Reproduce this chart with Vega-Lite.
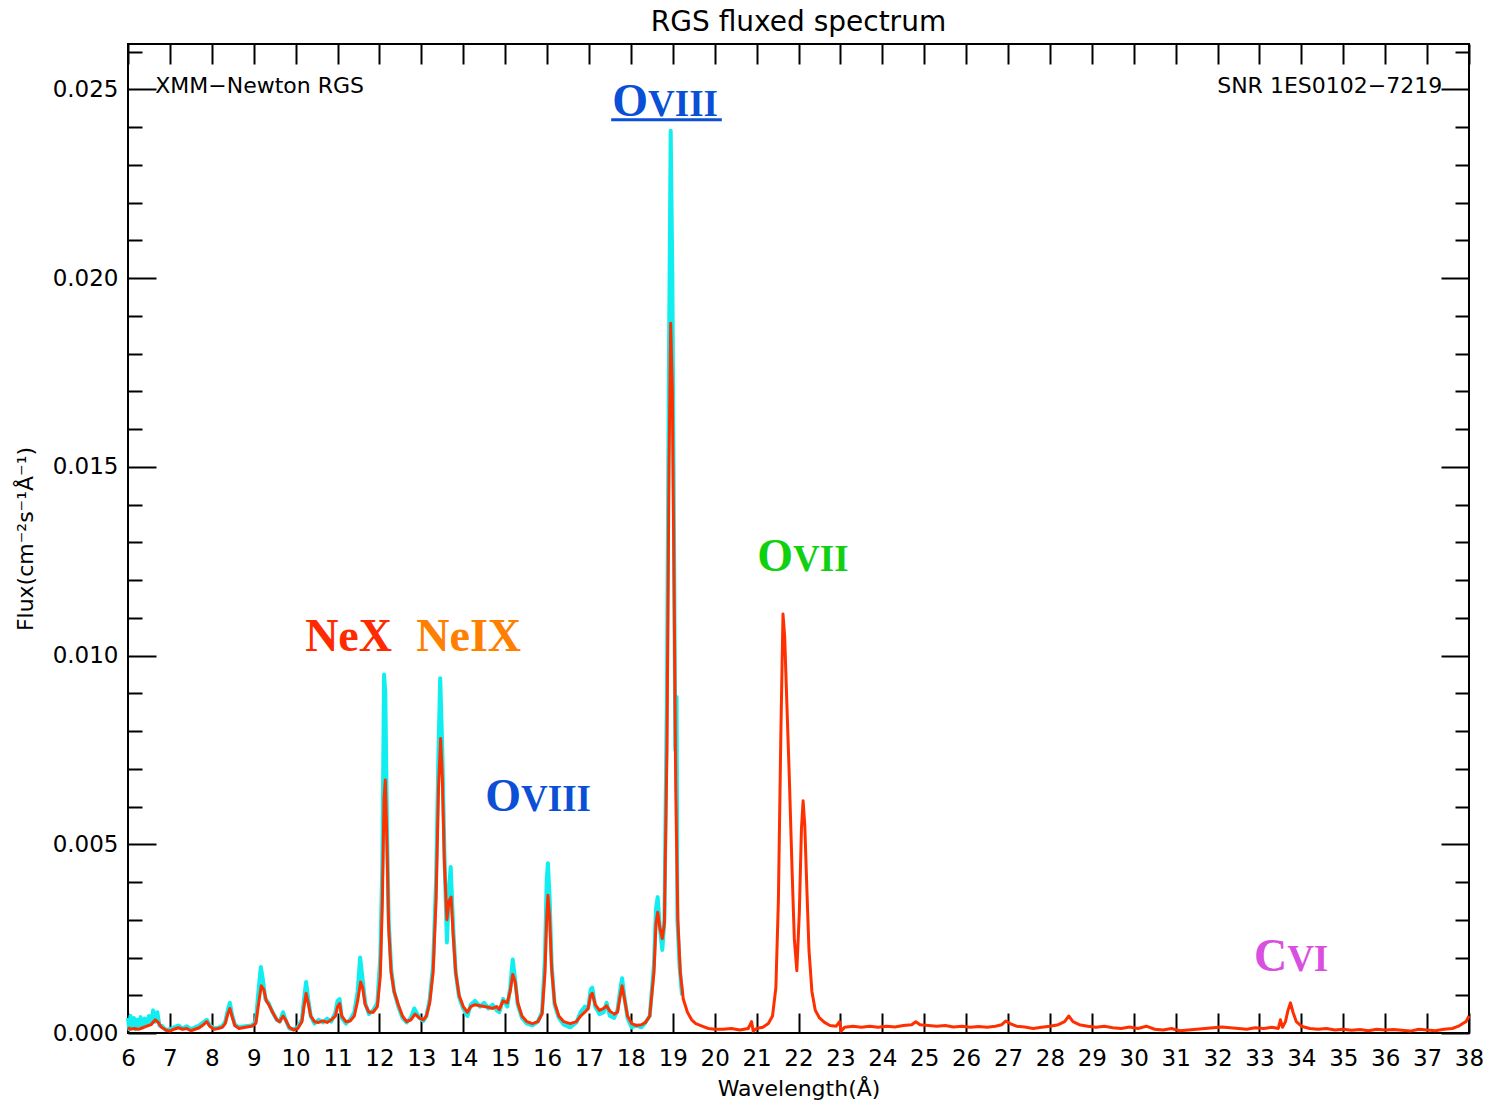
{
  "$schema": "https://vega.github.io/schema/vega-lite/v6.json",
  "width": 1341,
  "height": 989,
  "autosize": "none",
  "padding": {"left": 128, "top": 44, "right": 17, "bottom": 70},
  "background": "white",
  "title": {"text": "RGS fluxed spectrum", "fontSize": 28, "font": "DejaVu Sans", "fontWeight": "normal", "color": "black", "anchor": "middle", "offset": 4},
  "config": {
    "view": {"stroke": "black", "strokeWidth": 2},
    "axis": {"domain": false, "grid": false, "labelFont": "DejaVu Sans", "labelFontSize": 23, "labelColor": "black", "titleFont": "DejaVu Sans", "titleFontSize": 22, "titleFontWeight": "normal", "titleColor": "black", "tickColor": "black", "tickWidth": 2}
  },
  "datasets": {
    "red": [
      {"w":6.00,"f":0.00015},{"w":6.05,"f":0.00010},{"w":6.15,"f":0.00012},{"w":6.25,"f":0.00010},{"w":6.35,"f":0.00014},{"w":6.45,"f":0.00018},{"w":6.55,"f":0.00022},{"w":6.65,"f":0.00035},{"w":6.72,"f":0.00028},{"w":6.80,"f":0.00015},{"w":6.90,"f":0.00008},{"w":7.00,"f":0.00005},{"w":7.10,"f":0.00010},{"w":7.20,"f":0.00014},{"w":7.30,"f":0.00010},{"w":7.40,"f":0.00012},{"w":7.50,"f":0.00006},{"w":7.60,"f":0.00010},{"w":7.70,"f":0.00014},{"w":7.80,"f":0.00022},{"w":7.88,"f":0.00030},{"w":7.95,"f":0.00018},{"w":8.05,"f":0.00010},{"w":8.15,"f":0.00012},{"w":8.25,"f":0.00015},{"w":8.32,"f":0.00025},{"w":8.38,"f":0.00050},{"w":8.43,"f":0.00065},{"w":8.48,"f":0.00045},{"w":8.55,"f":0.00020},{"w":8.65,"f":0.00012},{"w":8.80,"f":0.00015},{"w":8.95,"f":0.00018},{"w":9.05,"f":0.00025},{"w":9.12,"f":0.00080},{"w":9.18,"f":0.00125},{"w":9.24,"f":0.00115},{"w":9.30,"f":0.00085},{"w":9.36,"f":0.00075},{"w":9.45,"f":0.00055},{"w":9.55,"f":0.00035},{"w":9.62,"f":0.00030},{"w":9.70,"f":0.00045},{"w":9.76,"f":0.00035},{"w":9.85,"f":0.00015},{"w":9.95,"f":0.00008},{"w":10.05,"f":0.00012},{"w":10.15,"f":0.00030},{"w":10.20,"f":0.00070},{"w":10.25,"f":0.00105},{"w":10.30,"f":0.00080},{"w":10.36,"f":0.00045},{"w":10.45,"f":0.00030},{"w":10.55,"f":0.00028},{"w":10.65,"f":0.00032},{"w":10.75,"f":0.00028},{"w":10.85,"f":0.00035},{"w":10.95,"f":0.00045},{"w":11.00,"f":0.00070},{"w":11.05,"f":0.00078},{"w":11.10,"f":0.00045},{"w":11.20,"f":0.00030},{"w":11.30,"f":0.00032},{"w":11.40,"f":0.00045},{"w":11.48,"f":0.00085},{"w":11.55,"f":0.00135},{"w":11.60,"f":0.00120},{"w":11.66,"f":0.00075},{"w":11.75,"f":0.00055},{"w":11.85,"f":0.00055},{"w":11.95,"f":0.00070},{"w":12.02,"f":0.00150},{"w":12.07,"f":0.00350},{"w":12.11,"f":0.00620},{"w":12.14,"f":0.00670},{"w":12.18,"f":0.00500},{"w":12.22,"f":0.00280},{"w":12.28,"f":0.00160},{"w":12.35,"f":0.00110},{"w":12.45,"f":0.00075},{"w":12.55,"f":0.00045},{"w":12.65,"f":0.00030},{"w":12.75,"f":0.00035},{"w":12.85,"f":0.00050},{"w":12.95,"f":0.00040},{"w":13.05,"f":0.00035},{"w":13.12,"f":0.00045},{"w":13.20,"f":0.00080},{"w":13.28,"f":0.00160},{"w":13.35,"f":0.00350},{"w":13.41,"f":0.00650},{"w":13.46,"f":0.00780},{"w":13.50,"f":0.00680},{"w":13.55,"f":0.00450},{"w":13.61,"f":0.00300},{"w":13.66,"f":0.00350},{"w":13.71,"f":0.00360},{"w":13.76,"f":0.00260},{"w":13.82,"f":0.00160},{"w":13.90,"f":0.00100},{"w":14.00,"f":0.00070},{"w":14.10,"f":0.00055},{"w":14.18,"f":0.00070},{"w":14.28,"f":0.00075},{"w":14.40,"f":0.00072},{"w":14.50,"f":0.00070},{"w":14.60,"f":0.00068},{"w":14.70,"f":0.00065},{"w":14.80,"f":0.00070},{"w":14.86,"f":0.00062},{"w":14.95,"f":0.00085},{"w":15.05,"f":0.00080},{"w":15.12,"f":0.00110},{"w":15.18,"f":0.00155},{"w":15.24,"f":0.00135},{"w":15.30,"f":0.00080},{"w":15.40,"f":0.00045},{"w":15.52,"f":0.00030},{"w":15.65,"f":0.00025},{"w":15.78,"f":0.00030},{"w":15.88,"f":0.00050},{"w":15.95,"f":0.00160},{"w":15.99,"f":0.00300},{"w":16.02,"f":0.00365},{"w":16.06,"f":0.00310},{"w":16.11,"f":0.00170},{"w":16.18,"f":0.00080},{"w":16.28,"f":0.00045},{"w":16.40,"f":0.00030},{"w":16.55,"f":0.00025},{"w":16.70,"f":0.00030},{"w":16.80,"f":0.00045},{"w":16.90,"f":0.00055},{"w":16.98,"f":0.00065},{"w":17.04,"f":0.00100},{"w":17.08,"f":0.00105},{"w":17.15,"f":0.00075},{"w":17.25,"f":0.00060},{"w":17.35,"f":0.00065},{"w":17.42,"f":0.00072},{"w":17.50,"f":0.00058},{"w":17.60,"f":0.00050},{"w":17.68,"f":0.00055},{"w":17.74,"f":0.00095},{"w":17.79,"f":0.00125},{"w":17.84,"f":0.00095},{"w":17.92,"f":0.00045},{"w":18.02,"f":0.00025},{"w":18.12,"f":0.00020},{"w":18.25,"f":0.00022},{"w":18.35,"f":0.00028},{"w":18.45,"f":0.00045},{"w":18.55,"f":0.00160},{"w":18.60,"f":0.00290},{"w":18.64,"f":0.00320},{"w":18.69,"f":0.00280},{"w":18.75,"f":0.00250},{"w":18.80,"f":0.00290},{"w":18.86,"f":0.00750},{"w":18.91,"f":0.01500},{"w":18.95,"f":0.01880},{"w":18.99,"f":0.01700},{"w":19.03,"f":0.01200},{"w":19.07,"f":0.00650},{"w":19.12,"f":0.00300},{"w":19.18,"f":0.00160},{"w":19.25,"f":0.00090},{"w":19.35,"f":0.00055},{"w":19.45,"f":0.00035},{"w":19.55,"f":0.00025},{"w":19.70,"f":0.00018},{"w":19.85,"f":0.00012},{"w":20.00,"f":0.00010},{"w":20.20,"f":0.00010},{"w":20.40,"f":0.00012},{"w":20.60,"f":0.00008},{"w":20.80,"f":0.00012},{"w":20.88,"f":0.00030},{"w":20.92,"f":0.00005},{"w":21.00,"f":0.00012},{"w":21.15,"f":0.00015},{"w":21.28,"f":0.00025},{"w":21.38,"f":0.00045},{"w":21.46,"f":0.00120},{"w":21.52,"f":0.00350},{"w":21.58,"f":0.00800},{"w":21.63,"f":0.01110},{"w":21.67,"f":0.01050},{"w":21.72,"f":0.00880},{"w":21.78,"f":0.00680},{"w":21.85,"f":0.00420},{"w":21.90,"f":0.00250},{"w":21.96,"f":0.00165},{"w":22.02,"f":0.00320},{"w":22.07,"f":0.00540},{"w":22.11,"f":0.00615},{"w":22.15,"f":0.00550},{"w":22.20,"f":0.00380},{"w":22.25,"f":0.00220},{"w":22.32,"f":0.00110},{"w":22.40,"f":0.00060},{"w":22.50,"f":0.00040},{"w":22.62,"f":0.00028},{"w":22.75,"f":0.00020},{"w":22.90,"f":0.00018},{"w":22.98,"f":0.00030},{"w":23.02,"f":0.00005},{"w":23.10,"f":0.00015},{"w":23.30,"f":0.00018},{"w":23.50,"f":0.00015},{"w":23.70,"f":0.00018},{"w":23.90,"f":0.00015},{"w":24.10,"f":0.00018},{"w":24.30,"f":0.00016},{"w":24.50,"f":0.00020},{"w":24.70,"f":0.00022},{"w":24.80,"f":0.00030},{"w":24.90,"f":0.00022},{"w":25.10,"f":0.00020},{"w":25.30,"f":0.00018},{"w":25.50,"f":0.00020},{"w":25.70,"f":0.00016},{"w":25.90,"f":0.00018},{"w":26.10,"f":0.00015},{"w":26.30,"f":0.00017},{"w":26.50,"f":0.00015},{"w":26.70,"f":0.00018},{"w":26.85,"f":0.00022},{"w":26.95,"f":0.00032},{"w":27.05,"f":0.00025},{"w":27.20,"f":0.00018},{"w":27.40,"f":0.00016},{"w":27.60,"f":0.00012},{"w":27.80,"f":0.00015},{"w":28.00,"f":0.00018},{"w":28.20,"f":0.00022},{"w":28.35,"f":0.00030},{"w":28.45,"f":0.00045},{"w":28.55,"f":0.00030},{"w":28.70,"f":0.00022},{"w":28.90,"f":0.00018},{"w":29.10,"f":0.00015},{"w":29.30,"f":0.00018},{"w":29.50,"f":0.00014},{"w":29.70,"f":0.00012},{"w":29.90,"f":0.00016},{"w":30.10,"f":0.00012},{"w":30.30,"f":0.00018},{"w":30.50,"f":0.00010},{"w":30.70,"f":0.00008},{"w":30.90,"f":0.00012},{"w":31.10,"f":0.00006},{"w":31.30,"f":0.00008},{"w":31.50,"f":0.00010},{"w":31.70,"f":0.00012},{"w":31.90,"f":0.00014},{"w":32.10,"f":0.00016},{"w":32.30,"f":0.00014},{"w":32.50,"f":0.00012},{"w":32.70,"f":0.00010},{"w":32.90,"f":0.00014},{"w":33.10,"f":0.00012},{"w":33.30,"f":0.00015},{"w":33.45,"f":0.00012},{"w":33.50,"f":0.00035},{"w":33.55,"f":0.00015},{"w":33.62,"f":0.00030},{"w":33.68,"f":0.00060},{"w":33.74,"f":0.00080},{"w":33.80,"f":0.00055},{"w":33.88,"f":0.00030},{"w":34.00,"f":0.00018},{"w":34.20,"f":0.00012},{"w":34.40,"f":0.00010},{"w":34.60,"f":0.00012},{"w":34.80,"f":0.00008},{"w":35.00,"f":0.00010},{"w":35.20,"f":0.00007},{"w":35.40,"f":0.00009},{"w":35.60,"f":0.00006},{"w":35.80,"f":0.00010},{"w":36.00,"f":0.00008},{"w":36.20,"f":0.00009},{"w":36.40,"f":0.00007},{"w":36.60,"f":0.00005},{"w":36.80,"f":0.00010},{"w":37.00,"f":0.00008},{"w":37.20,"f":0.00006},{"w":37.40,"f":0.00010},{"w":37.60,"f":0.00012},{"w":37.75,"f":0.00018},{"w":37.85,"f":0.00025},{"w":37.93,"f":0.00030},{"w":38.00,"f":0.00045}
    ],
    "cyan": [
      {"w":6.00,"f":0.00040},{"w":6.03,"f":0.00010},{"w":6.06,"f":0.00045},{"w":6.10,"f":0.00015},{"w":6.14,"f":0.00040},{"w":6.18,"f":0.00010},{"w":6.22,"f":0.00035},{"w":6.26,"f":0.00020},{"w":6.30,"f":0.00042},{"w":6.34,"f":0.00015},{"w":6.40,"f":0.00038},{"w":6.45,"f":0.00020},{"w":6.50,"f":0.00045},{"w":6.55,"f":0.00025},{"w":6.60,"f":0.00060},{"w":6.65,"f":0.00030},{"w":6.70,"f":0.00055},{"w":6.75,"f":0.00020},{"w":6.82,"f":0.00018},{"w":6.90,"f":0.00008},{"w":7.00,"f":0.00010},{"w":7.10,"f":0.00015},{"w":7.20,"f":0.00020},{"w":7.30,"f":0.00012},{"w":7.40,"f":0.00018},{"w":7.50,"f":0.00010},{"w":7.60,"f":0.00015},{"w":7.70,"f":0.00020},{"w":7.80,"f":0.00028},{"w":7.88,"f":0.00035},{"w":7.95,"f":0.00020},{"w":8.05,"f":0.00012},{"w":8.15,"f":0.00014},{"w":8.25,"f":0.00018},{"w":8.32,"f":0.00030},{"w":8.38,"f":0.00060},{"w":8.43,"f":0.00080},{"w":8.48,"f":0.00050},{"w":8.55,"f":0.00022},{"w":8.65,"f":0.00015},{"w":8.80,"f":0.00018},{"w":8.95,"f":0.00020},{"w":9.05,"f":0.00030},{"w":9.12,"f":0.00120},{"w":9.17,"f":0.00175},{"w":9.22,"f":0.00140},{"w":9.28,"f":0.00090},{"w":9.35,"f":0.00080},{"w":9.45,"f":0.00055},{"w":9.55,"f":0.00035},{"w":9.62,"f":0.00030},{"w":9.70,"f":0.00055},{"w":9.76,"f":0.00035},{"w":9.85,"f":0.00012},{"w":9.95,"f":0.00010},{"w":10.05,"f":0.00015},{"w":10.15,"f":0.00035},{"w":10.20,"f":0.00090},{"w":10.25,"f":0.00135},{"w":10.30,"f":0.00090},{"w":10.36,"f":0.00045},{"w":10.45,"f":0.00025},{"w":10.55,"f":0.00035},{"w":10.65,"f":0.00028},{"w":10.75,"f":0.00038},{"w":10.85,"f":0.00030},{"w":10.95,"f":0.00055},{"w":11.00,"f":0.00085},{"w":11.05,"f":0.00090},{"w":11.10,"f":0.00040},{"w":11.20,"f":0.00025},{"w":11.30,"f":0.00035},{"w":11.40,"f":0.00055},{"w":11.48,"f":0.00110},{"w":11.54,"f":0.00200},{"w":11.60,"f":0.00140},{"w":11.66,"f":0.00080},{"w":11.75,"f":0.00050},{"w":11.85,"f":0.00060},{"w":11.95,"f":0.00080},{"w":12.02,"f":0.00200},{"w":12.07,"f":0.00450},{"w":12.11,"f":0.00950},{"w":12.14,"f":0.00900},{"w":12.18,"f":0.00550},{"w":12.22,"f":0.00300},{"w":12.28,"f":0.00170},{"w":12.35,"f":0.00110},{"w":12.45,"f":0.00070},{"w":12.55,"f":0.00040},{"w":12.65,"f":0.00028},{"w":12.75,"f":0.00040},{"w":12.83,"f":0.00065},{"w":12.95,"f":0.00040},{"w":13.05,"f":0.00032},{"w":13.12,"f":0.00045},{"w":13.20,"f":0.00090},{"w":13.28,"f":0.00180},{"w":13.35,"f":0.00400},{"w":13.41,"f":0.00750},{"w":13.45,"f":0.00940},{"w":13.50,"f":0.00750},{"w":13.55,"f":0.00480},{"w":13.61,"f":0.00240},{"w":13.66,"f":0.00380},{"w":13.70,"f":0.00440},{"w":13.76,"f":0.00280},{"w":13.82,"f":0.00160},{"w":13.90,"f":0.00095},{"w":14.00,"f":0.00065},{"w":14.10,"f":0.00045},{"w":14.18,"f":0.00075},{"w":14.28,"f":0.00085},{"w":14.40,"f":0.00070},{"w":14.50,"f":0.00080},{"w":14.60,"f":0.00065},{"w":14.70,"f":0.00075},{"w":14.80,"f":0.00060},{"w":14.86,"f":0.00055},{"w":14.95,"f":0.00090},{"w":15.05,"f":0.00070},{"w":15.12,"f":0.00120},{"w":15.18,"f":0.00195},{"w":15.24,"f":0.00140},{"w":15.30,"f":0.00075},{"w":15.40,"f":0.00040},{"w":15.52,"f":0.00025},{"w":15.65,"f":0.00020},{"w":15.78,"f":0.00030},{"w":15.88,"f":0.00055},{"w":15.95,"f":0.00200},{"w":15.99,"f":0.00400},{"w":16.02,"f":0.00450},{"w":16.06,"f":0.00360},{"w":16.11,"f":0.00180},{"w":16.18,"f":0.00075},{"w":16.28,"f":0.00040},{"w":16.40,"f":0.00022},{"w":16.55,"f":0.00015},{"w":16.70,"f":0.00028},{"w":16.80,"f":0.00055},{"w":16.90,"f":0.00070},{"w":16.98,"f":0.00065},{"w":17.04,"f":0.00115},{"w":17.08,"f":0.00120},{"w":17.15,"f":0.00070},{"w":17.25,"f":0.00050},{"w":17.35,"f":0.00055},{"w":17.42,"f":0.00080},{"w":17.50,"f":0.00045},{"w":17.60,"f":0.00040},{"w":17.68,"f":0.00060},{"w":17.74,"f":0.00110},{"w":17.79,"f":0.00145},{"w":17.84,"f":0.00100},{"w":17.92,"f":0.00040},{"w":18.02,"f":0.00015},{"w":18.12,"f":0.00020},{"w":18.25,"f":0.00015},{"w":18.35,"f":0.00028},{"w":18.45,"f":0.00045},{"w":18.55,"f":0.00180},{"w":18.60,"f":0.00330},{"w":18.64,"f":0.00360},{"w":18.69,"f":0.00280},{"w":18.75,"f":0.00220},{"w":18.80,"f":0.00300},{"w":18.86,"f":0.00900},{"w":18.91,"f":0.01800},{"w":18.95,"f":0.02390},{"w":18.99,"f":0.02000},{"w":19.03,"f":0.01300},{"w":19.06,"f":0.00750},{"w":19.09,"f":0.00890},{"w":19.11,"f":0.00300},{"w":19.16,"f":0.00180},{"w":19.22,"f":0.00100}
    ],
    "labels": [
      {"w":12.30,"f":0.01013,"el":"NeX","ion":"","c":"NeX"},
      {"w":15.38,"f":0.01013,"el":"NeIX","ion":"","c":"NeIX"},
      {"w":15.38,"f":0.00589,"el":"O","ion":"VIII","c":"OVIII"},
      {"w":18.41,"f":0.02430,"el":"O","ion":"VIII","c":"OVIII"},
      {"w":21.87,"f":0.01225,"el":"O","ion":"VII","c":"OVII"},
      {"w":33.66,"f":0.00164,"el":"C","ion":"VI","c":"CVI"}
    ],
    "underline": [{"w1":17.53,"w2":20.17,"f":0.02419}],
    "corner": [
      {"w":6.65,"f":0.0251,"t":"XMM−Newton RGS","side":"left"},
      {"w":37.36,"f":0.0251,"t":"SNR 1ES0102−7219","side":"right"}
    ]
  },
  "layer": [
    {
      "data": {"name": "cyan"},
      "mark": {"type": "line", "color": "#10eef0", "strokeWidth": 4, "strokeJoin": "round"},
      "encoding": {
        "x": {"field": "w", "type": "quantitative", "scale": {"domain": [6, 38], "nice": false, "zero": false},
          "axis": {"orient": "bottom", "values": [6,7,8,9,10,11,12,13,14,15,16,17,18,19,20,21,22,23,24,25,26,27,28,29,30,31,32,33,34,35,36,37,38], "format": "d", "tickSize": -20, "labelPadding": 34, "title": "Wavelength(Å)", "titlePadding": 8, "labelFlush": false, "labelOverlap": false}},
        "y": {"field": "f", "type": "quantitative", "scale": {"domain": [0, 0.0262], "nice": false, "zero": false},
          "axis": {"orient": "left", "values": [0,0.001,0.002,0.003,0.004,0.005,0.006,0.007,0.008,0.009,0.01,0.011,0.012,0.013,0.014,0.015,0.016,0.017,0.018,0.019,0.02,0.021,0.022,0.023,0.024,0.025,0.026],
            "labelExpr": "round(datum.value*1000) % 5 == 0 ? format(datum.value, '.3f') : ''",
            "tickSize": {"condition": {"test": "round(datum.value*1000) % 5 == 0", "value": -28}, "value": -14},
            "labelPadding": 38, "labelOverlap": false, "labelFlush": false, "title": "Flux(cm⁻²s⁻¹Å⁻¹)", "titlePadding": 15}}
      }
    },
    {
      "data": {"name": "red"},
      "mark": {"type": "line", "color": "#ff3000", "strokeWidth": 3, "strokeJoin": "round"},
      "encoding": {
        "x": {"field": "w", "type": "quantitative",
          "axis": {"orient": "top", "values": [6,7,8,9,10,11,12,13,14,15,16,17,18,19,20,21,22,23,24,25,26,27,28,29,30,31,32,33,34,35,36,37,38], "tickSize": -20, "labels": false, "title": null}},
        "y": {"field": "f", "type": "quantitative",
          "axis": {"orient": "right", "values": [0,0.001,0.002,0.003,0.004,0.005,0.006,0.007,0.008,0.009,0.01,0.011,0.012,0.013,0.014,0.015,0.016,0.017,0.018,0.019,0.02,0.021,0.022,0.023,0.024,0.025,0.026],
            "tickSize": {"condition": {"test": "round(datum.value*1000) % 5 == 0", "value": -28}, "value": -14},
            "labels": false, "title": null}}
      }
    },
    {
      "data": {"name": "corner"},
      "transform": [{"filter": "datum.side == 'left'"}],
      "mark": {"type": "text", "align": "left", "baseline": "middle", "font": "DejaVu Sans", "fontSize": 22, "color": "black"},
      "encoding": {
        "x": {"field": "w", "type": "quantitative", "axis": null},
        "y": {"field": "f", "type": "quantitative", "axis": null},
        "text": {"field": "t"}
      }
    },
    {
      "data": {"name": "corner"},
      "transform": [{"filter": "datum.side == 'right'"}],
      "mark": {"type": "text", "align": "right", "baseline": "middle", "font": "DejaVu Sans", "fontSize": 22, "color": "black"},
      "encoding": {
        "x": {"field": "w", "type": "quantitative", "axis": null},
        "y": {"field": "f", "type": "quantitative", "axis": null},
        "text": {"field": "t"}
      }
    },
    {
      "data": {"name": "labels"},
      "mark": {"type": "text", "align": "right", "baseline": "alphabetic", "font": "Liberation Serif", "fontWeight": "bold", "fontSize": 46},
      "encoding": {
        "x": {"field": "w", "type": "quantitative", "axis": null},
        "y": {"field": "f", "type": "quantitative", "axis": null},
        "text": {"field": "el"},
        "color": {"field": "c", "type": "nominal", "legend": null, "scale": {"domain": ["NeX", "NeIX", "OVIII", "OVII", "CVI"], "range": ["#ff2a00", "#ff8000", "#0a4fd6", "#10d010", "#d94fe0"]}}
      }
    },
    {
      "data": {"name": "labels"},
      "mark": {"type": "text", "align": "left", "baseline": "alphabetic", "font": "Liberation Serif", "fontWeight": "bold", "fontSize": 37},
      "encoding": {
        "x": {"field": "w", "type": "quantitative", "axis": null},
        "y": {"field": "f", "type": "quantitative", "axis": null},
        "text": {"field": "ion"},
        "color": {"field": "c", "type": "nominal", "legend": null}
      }
    },
    {
      "data": {"name": "underline"},
      "mark": {"type": "rule", "color": "#0a4fd6", "strokeWidth": 3},
      "encoding": {
        "x": {"field": "w1", "type": "quantitative", "axis": null},
        "x2": {"field": "w2"},
        "y": {"field": "f", "type": "quantitative", "axis": null}
      }
    }
  ],
  "resolve": {"axis": {"x": "independent", "y": "independent"}}
}
